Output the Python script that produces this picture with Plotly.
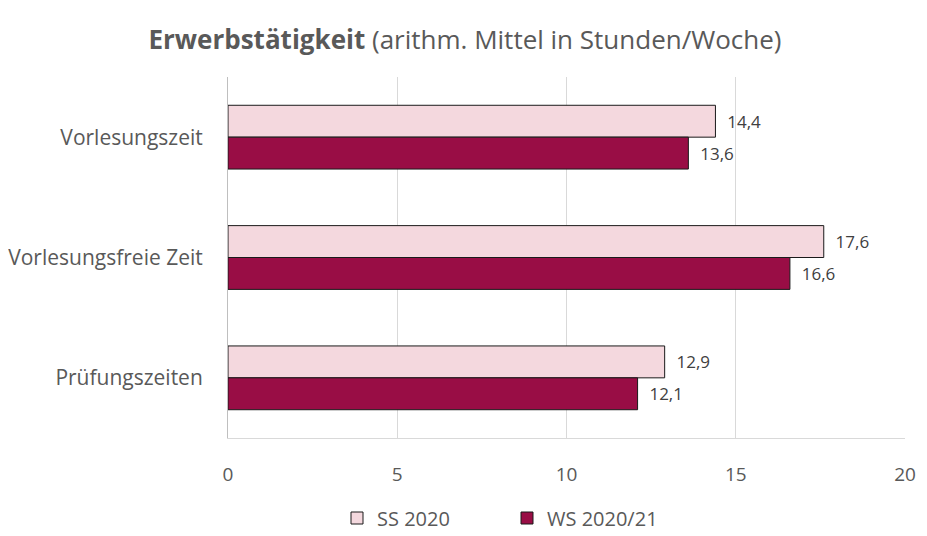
import plotly.graph_objects as go

categories = ["Vorlesungszeit", "Vorlesungsfreie Zeit", "Prüfungszeiten"]
ss2020 = [14.4, 17.6, 12.9]
ws2020 = [13.6, 16.6, 12.1]
series_names = ["SS 2020", "WS 2020/21"]
x_ticks = [0, 5, 10, 15, 20]

font_family = "Open Sans, Noto Sans, sans-serif"
txt_color = "#595959"
OFF = 8  # page body margin offset
W, H = 927 - OFF, 536 - 2 * OFF
PLOT_RIGHT = 905

fig = go.Figure()
fig.add_trace(go.Bar(
    y=categories, x=ss2020, orientation="h", name=series_names[0],
    marker=dict(color="#F4D8DE", line=dict(color="#1a1a1a", width=1)),
    texttemplate="\u00a0\u00a0%{x:.1f}", textposition="outside", cliponaxis=False,
    textfont=dict(size=17, color="#404040", family=font_family),
))
fig.add_trace(go.Bar(
    y=categories, x=ws2020, orientation="h", name=series_names[1],
    marker=dict(color="#990D45", line=dict(color="#1a1a1a", width=1)),
    texttemplate="\u00a0\u00a0%{x:.1f}", textposition="outside", cliponaxis=False,
    textfont=dict(size=17, color="#404040", family=font_family),
))

fig.update_layout(
    width=W, height=H,
    separators=",.",
    barmode="group", bargap=0.47, bargroupgap=0,
    plot_bgcolor="white", paper_bgcolor="white",
    margin=dict(l=228 - OFF, r=OFF + W - PLOT_RIGHT, t=77 - OFF, b=OFF + H - 438, autoexpand=False),
    font=dict(family=font_family, color=txt_color, size=20),
    title=dict(
        text="<b>Erwerbstätigkeit</b> (arithm. Mittel in Stunden/Woche)",
        x=(465 - OFF) / W, xref="container", xanchor="center",
        y=1 - (40 - OFF) / H, yref="container", yanchor="middle",
        font=dict(size=26, color=txt_color, family=font_family),
    ),
    xaxis=dict(
        range=[0, 20], tickvals=x_ticks,
        showgrid=True, gridcolor="#D9D9D9",
        gridwidth=1, zeroline=False, automargin=False,
        tickfont=dict(size=19, color=txt_color), ticks="", ticklabelstandoff=19,
        showline=True, linecolor="#D9D9D9", linewidth=1,
    ),
    yaxis=dict(
        autorange="reversed", showgrid=False, zeroline=False, automargin=False,
        ticks="", ticklabelstandoff=20,
        tickfont=dict(size=21, color=txt_color),
        showline=True, linecolor="#BFBFBF", linewidth=1,
    ),
    legend=dict(
        orientation="h", x=(337 - OFF) / W, xref="container", xanchor="left",
        y=1 - (518 - OFF) / H, yref="container", yanchor="middle",
        font=dict(size=20, color=txt_color), traceorder="normal",
        itemwidth=30, entrywidth=125, entrywidthmode="pixels",
    ),
    showlegend=True,
)

fig.write_html("out.html")
